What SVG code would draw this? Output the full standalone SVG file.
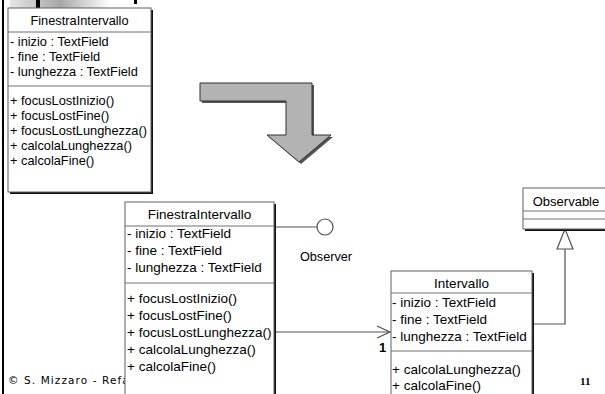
<svg xmlns="http://www.w3.org/2000/svg" width="605" height="394" viewBox="0 0 605 394">
<defs>
<linearGradient id="tg" x1="0" y1="0" x2="1" y2="0">
<stop offset="0" stop-color="#e6e6e6"/>
<stop offset="0.5" stop-color="#a8a8a8"/>
<stop offset="1" stop-color="#ffffff"/>
</linearGradient>
<style>
.box{fill:#fff;stroke:#606060;stroke-width:1}
.shadow{fill:#111}
.sep{stroke:#707070;stroke-width:1}
.t1{font-family:"Liberation Sans",Arial,sans-serif;font-size:12.8px;fill:#000}
.t2{font-family:"Liberation Sans",Arial,sans-serif;font-size:13.5px;fill:#000}
.c{text-anchor:middle}
.conn{stroke:#505050;stroke-width:1.2;fill:none}
</style>
</defs>
<rect width="605" height="394" fill="#fff"/>
<!-- slide decorations -->
<rect x="10" y="0" width="100" height="8" fill="url(#tg)"/>
<rect x="36" y="0" width="4" height="9" fill="#000"/>
<rect x="134" y="0" width="3" height="4" fill="#000"/>
<rect x="2" y="0" width="2" height="394" fill="#000"/>
<text x="8" y="384" style="font-family:'DejaVu Sans',Verdana,sans-serif;font-size:10.5px;letter-spacing:1.1px" fill="#000">© S. Mizzaro - Refa</text>
<text x="580" y="385" style="font-family:'Liberation Serif',serif;font-size:11px;font-weight:bold" fill="#000">11</text>

<!-- transform arrow -->
<g id="bigArrow">
<polygon points="202,85 314,85 314,137 333,137 301,164 269,137 288,137 288,103 202,103" fill="#555"/>
<polygon points="200,83 312,83 312,135 331,135 299,162 267,135 286,135 286,101 200,101" fill="#b3b3b3" stroke="#333" stroke-width="1"/>
</g>

<g id="finestraOld">
<rect x="10" y="10" width="143" height="184" class="shadow"/>
<rect x="8" y="8" width="143" height="184" class="box"/>
<line x1="8" y1="32" x2="151" y2="32" class="sep"/>
<line x1="8" y1="86" x2="151" y2="86" class="sep"/>
<text x="79.5" y="25" class="t1 c">FinestraIntervallo</text>
<text x="10" y="46" class="t1">- inizio : TextField</text>
<text x="10" y="61" class="t1">- fine : TextField</text>
<text x="10" y="76" class="t1">- lunghezza : TextField</text>
<text x="10" y="105" class="t1">+ focusLostInizio()</text>
<text x="10" y="120" class="t1">+ focusLostFine()</text>
<text x="10" y="135" class="t1">+ focusLostLunghezza()</text>
<text x="10" y="150" class="t1">+ calcolaLunghezza()</text>
<text x="10" y="165" class="t1">+ calcolaFine()</text>
</g>

<g id="connectors">
<line x1="274" y1="227" x2="317" y2="227" class="conn"/>
<line x1="274" y1="332" x2="390" y2="332" class="conn"/>
<polyline points="377,326 390,332 377,338" class="conn"/>
<polyline points="532,324 565,324 565,249" class="conn"/>
<polygon points="565,229 557,249 573,249" fill="#fff" stroke="#505050" stroke-width="1.2"/>
<text x="379" y="352" class="t2" style="font-weight:bold;font-size:13px">1</text>
</g>

<g id="observer">
<circle cx="325" cy="227" r="8" fill="#fff" stroke="#505050" stroke-width="1.2"/>
<text x="326" y="261" class="t2 c" style="font-size:12.7px">Observer</text>
</g>

<g id="finestraNew">
<rect x="127" y="204" width="149" height="200" class="shadow"/>
<rect x="125" y="202" width="149" height="200" class="box"/>
<line x1="125" y1="226" x2="274" y2="226" class="sep"/>
<line x1="125" y1="283" x2="274" y2="283" class="sep"/>
<text x="199.5" y="219" class="t2 c">FinestraIntervallo</text>
<text x="127" y="238" class="t2">- inizio : TextField</text>
<text x="127" y="255" class="t2">- fine : TextField</text>
<text x="127" y="272" class="t2">- lunghezza : TextField</text>
<text x="127" y="303" class="t2">+ focusLostInizio()</text>
<text x="127" y="320" class="t2">+ focusLostFine()</text>
<text x="127" y="337" class="t2">+ focusLostLunghezza()</text>
<text x="127" y="354" class="t2">+ calcolaLunghezza()</text>
<text x="127" y="371" class="t2">+ calcolaFine()</text>
</g>

<g id="intervallo">
<rect x="393" y="273" width="141" height="130" class="shadow"/>
<rect x="391" y="271" width="141" height="130" class="box"/>
<line x1="391" y1="293" x2="532" y2="293" class="sep"/>
<line x1="391" y1="351" x2="532" y2="351" class="sep"/>
<text x="461.5" y="288" class="t2 c">Intervallo</text>
<text x="392" y="307" class="t2">- inizio : TextField</text>
<text x="392" y="324" class="t2">- fine : TextField</text>
<text x="392" y="341" class="t2">- lunghezza : TextField</text>
<text x="392" y="374" class="t2">+ calcolaLunghezza()</text>
<text x="392" y="390" class="t2">+ calcolaFine()</text>
</g>

<g id="observable">
<rect x="525" y="190" width="90" height="41" class="shadow"/>
<rect x="523" y="188" width="90" height="41" class="box"/>
<line x1="523" y1="211" x2="613" y2="211" class="sep"/>
<line x1="523" y1="219" x2="613" y2="219" class="sep"/>
<text x="566" y="206" class="t2 c" style="font-size:13px">Observable</text>
</g>
</svg>
